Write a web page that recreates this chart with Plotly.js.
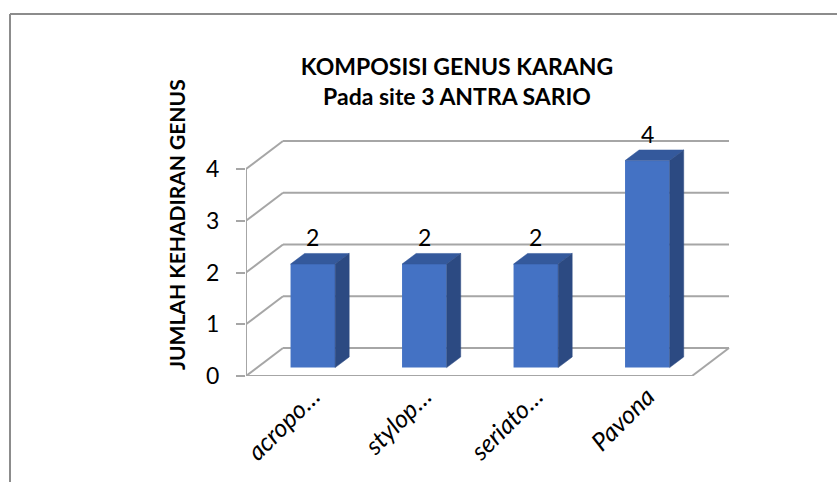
<!DOCTYPE html>
<html>
<head>
<meta charset="utf-8">
<script src="https://cdn.plot.ly/plotly-3.0.1.min.js"></script>
<style>html,body{margin:0;padding:0;background:#fff;}#chart{width:837px;height:482px;}</style>
</head>
<body>
<div id="chart"></div>
<script>
// ---- data ----
const categories = ["acropo…", "stylop…", "seriato…", "Pavona"];
const values = [2, 2, 2, 4];
const yTicks = [0, 1, 2, 3, 4];
const titleText = "KOMPOSISI GENUS KARANG<br>Pada site 3 ANTRA SARIO";
const yTitleText = "JUMLAH KEHADIRAN GENUS";

// ---- geometry (oblique 3D look) ----
const W = 837, H = 482;
const L = 246, R = 730, T = 130, B = 376;
const pxPerCat = 111.5, pxPerVal = 51.75;
const xRange = [-0.5, -0.5 + (R - L) / pxPerCat];
const yRange = [0, (B - T) / pxPerVal];
const DX = 37 / pxPerCat, DY = 28 / pxPerVal;      // wall depth
const bF = 0.30, bB = 0.68;                        // bar front/back depth fraction
const barW = 0.4;
const idx = categories.map((c, i) => i);
const barCenter = idx.map(i => i + bF * DX);
const gridCol = "#a6a6a6", gridW = 2;
const FONT = "Lato, 'Open Sans', sans-serif";

const px2xp = p => (p - L) / (R - L);
const py2yp = p => (B - p) / (B - T);

const shapes = [];
const seg = (x0, y0, x1, y1, extra) => shapes.push(Object.assign({
  type: "line", xref: "x", yref: "y", x0, y0, x1, y1, layer: "below",
  line: {color: gridCol, width: gridW}}, extra || {}));

// back wall gridlines and left wall diagonals
yTicks.forEach(v => {
  seg(-0.5 + DX, v + DY, 3.5 + DX, v + DY);
  seg(-0.5, v, -0.5 + DX, v + DY);
});
// front y axis line, floor front edge and right diagonal
seg(-0.5, 0, -0.5, yTicks[yTicks.length - 1]);
seg(-0.5, 0, 3.5, 0);
seg(3.5, 0, 3.5 + DX, DY);
// category boundary ticks
for (let b = -0.5; b <= categories.length - 0.5; b += 1) {
  shapes.push({type: "line", xref: "x", yref: "y", xsizemode: "scaled",
    ysizemode: "pixel", yanchor: 0, x0: b, x1: b, y0: 0, y1: -8,
    line: {color: gridCol, width: gridW}, layer: "below"});
}
// bar top and side faces
values.forEach((v, i) => {
  const fx0 = barCenter[i] - barW / 2, fx1 = barCenter[i] + barW / 2;
  const fy = bF * DY;
  const ddx = (bB - bF) * DX, ddy = (bB - bF) * DY;
  shapes.push({type: "path", xref: "x", yref: "y", layer: "above",
    path: `M${fx0},${v + fy} L${fx1},${v + fy} L${fx1 + ddx},${v + fy + ddy} L${fx0 + ddx},${v + fy + ddy} Z`,
    fillcolor: "#34599c", line: {color: "#34599c", width: 0.5}});
  shapes.push({type: "path", xref: "x", yref: "y", layer: "above",
    path: `M${fx1},${fy} L${fx1},${v + fy} L${fx1 + ddx},${v + fy + ddy} L${fx1 + ddx},${fy + ddy} Z`,
    fillcolor: "#2c4a82", line: {color: "#2c4a82", width: 0.5}});
});
// outer frame (top and left)
shapes.push({type: "line", xref: "paper", yref: "paper", x0: px2xp(10), y0: py2yp(14), x1: px2xp(840), y1: py2yp(14), line: {color: "#8c8c8c", width: 2}});
shapes.push({type: "line", xref: "paper", yref: "paper", x0: px2xp(10), y0: py2yp(14), x1: px2xp(10), y1: py2yp(490), line: {color: "#8c8c8c", width: 2}});

const annotations = values.map((v, i) => ({
  x: barCenter[i], y: v + bB * DY, xref: "x", yref: "y", text: String(v),
  showarrow: false, yanchor: "bottom", yshift: 0,
  font: {family: FONT, size: 23, color: "#000"}
}));
annotations.push({
  xref: "paper", yref: "paper", x: px2xp(176), y: py2yp(225), text: yTitleText,
  textangle: -90, showarrow: false, xanchor: "center", yanchor: "middle",
  font: {family: FONT, size: 21, color: "#000", weight: "bold"}
});

const trace = {
  type: "bar", x: idx, y: values, base: bF * DY, width: barW,
  offset: bF * DX - barW / 2,
  marker: {color: "#4472c4", line: {width: 0}},
  hoverinfo: "skip", cliponaxis: false
};

const layout = {
  width: W, height: H,
  margin: {l: L, r: W - R, t: T, b: H - B, pad: 0},
  paper_bgcolor: "#fff", plot_bgcolor: "rgba(0,0,0,0)",
  showlegend: false,
  title: {text: titleText, xref: "paper", x: px2xp(457), xanchor: "center",
    yref: "container", y: 1 - 75 / H, yanchor: "middle",
    font: {family: FONT, size: 23, color: "#000", weight: "bold"}},
  xaxis: {range: xRange, tickmode: "array", tickvals: barCenter, ticktext: categories,
    tickangle: -45, ticks: "", showgrid: false, zeroline: false, showline: false,
    tickfont: {family: FONT, size: 25, color: "#000", style: "italic"}, fixedrange: true},
  yaxis: {range: yRange, tickmode: "array", tickvals: yTicks, ticks: "outside", ticklen: 9,
    tickcolor: gridCol, tickwidth: gridW, showgrid: false, zeroline: false, showline: false,
    ticklabelstandoff: 12,
    tickfont: {family: FONT, size: 23, color: "#000"}, fixedrange: true},
  shapes, annotations
};

Plotly.newPlot("chart", [trace], layout, {staticPlot: true, displayModeBar: false});
</script>
</body>
</html>
